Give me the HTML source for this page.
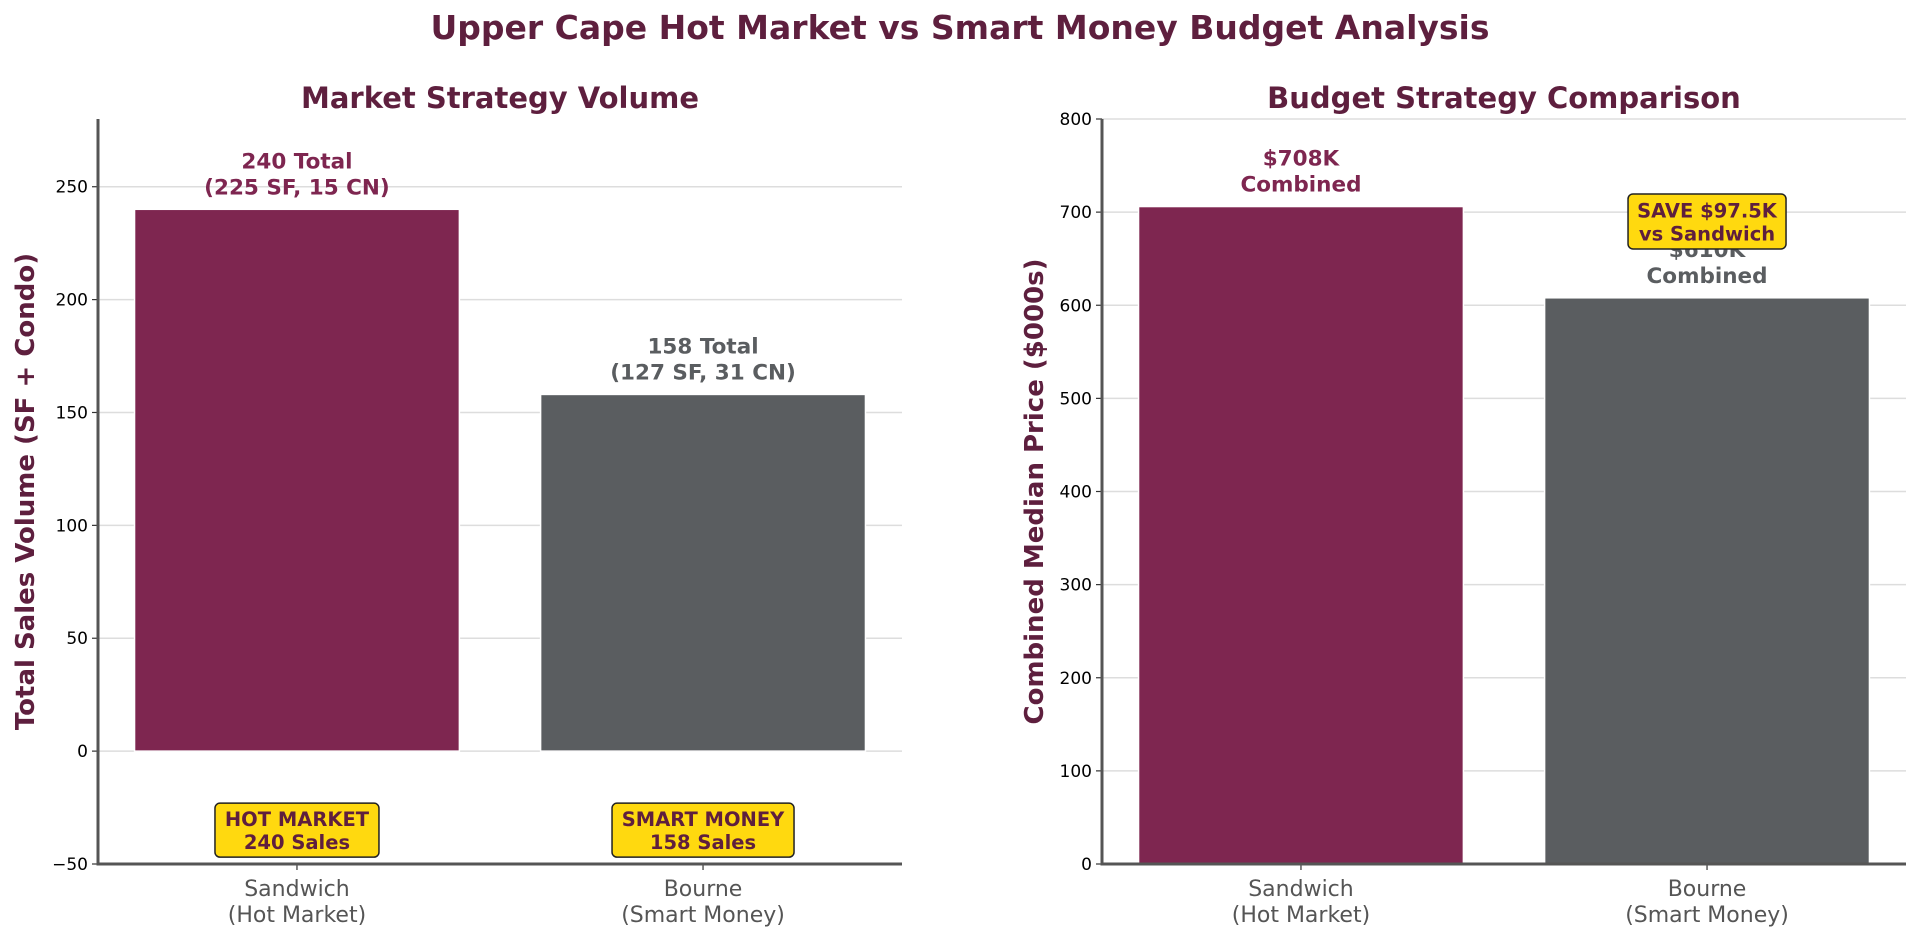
<!DOCTYPE html>
<html><head><meta charset="utf-8"><style>
html,body{margin:0;padding:0;background:#fff;}
svg{display:block;font-family:"DejaVu Sans","Liberation Sans",sans-serif;}
</style></head><body>
<svg id="c" width="1920" height="940" viewBox="0 0 1920 940">
<text x="960" y="39" text-anchor="middle" font-size="33" font-weight="bold" fill="#5E1F3E">Upper Cape Hot Market vs Smart Money Budget Analysis</text>
</svg>
<script>
const categories = ["Sandwich\n(Hot Market)", "Bourne\n(Smart Money)"];
const volumeValues = [240, 158];
const volumeLabels = ["240 Total\n(225 SF, 15 CN)", "158 Total\n(127 SF, 31 CN)"];
const volumeBadges = ["HOT MARKET\n240 Sales", "SMART MONEY\n158 Sales"];
const volumeTicks = [-50, 0, 50, 100, 150, 200, 250];
const priceValues = [706, 608];
const priceLabels = ["$708K\nCombined", "$610K\nCombined"];
const priceTicks = [0, 100, 200, 300, 400, 500, 600, 700, 800];
const saveText = "SAVE $97.5K\nvs Sandwich";
const saveValue = 690;
const badgeValue = -35;

const NS = "http://www.w3.org/2000/svg";
const svg = document.getElementById('c');
const colors = ["#7E2650", "#5A5D60"];
function el(tag, attrs, parent) {
  const e = document.createElementNS(NS, tag);
  for (const k in attrs) e.setAttribute(k, attrs[k]);
  (parent || svg).appendChild(e);
  return e;
}
function multiText(x, y, str, size, fill, weight, lh, name) {
  const t = el('text', {x: x, y: y, 'text-anchor': 'middle', 'font-size': size, fill: fill, 'font-weight': weight});
  
  
  str.split('\n').forEach((s, i) => {
    const ts = el('tspan', {x: x, dy: i === 0 ? 0 : lh}, t);
    ts.textContent = s;
  });
  return t;
}
function panel(cfg) {
  const L = cfg.left, R = L + 804, T = 119, B = 864;
  const y = v => B - (v - cfg.ymin) / (cfg.ymax - cfg.ymin) * (B - T);
  const x = i => L + (i + 0.49) / 1.98 * (R - L);
  const bw = 0.8 / 1.98 * (R - L);
  const g = el('g', {});
  
  
  const tt = el('text', {x: (L + R) / 2, y: 108, 'text-anchor': 'middle', 'font-size': 29, 'font-weight': 'bold', fill: '#5E1F3E'}, g);
  
  
  tt.textContent = cfg.title;
  cfg.ticks.forEach(v => {
    const gl = el('line', {x1: L, x2: R, y1: y(v), y2: y(v), stroke: '#dddddd', 'stroke-width': 1.5}, g);
    
    
    el('line', {x1: L - 6, x2: L, y1: y(v), y2: y(v), stroke: '#333', 'stroke-width': 1.2}, g);
    const tl = el('text', {x: L - 10, y: y(v) + 6, 'text-anchor': 'end', 'font-size': 17, fill: '#000'}, g);
    
    
    tl.textContent = String(v).replace('-', '\u2212');
  });
  cfg.values.forEach((v, i) => {
    const r = el('rect', {x: x(i) - bw / 2, y: y(Math.max(v, 0)), width: bw, height: Math.abs(y(0) - y(v)), fill: colors[i], stroke: '#fff', 'stroke-width': 1.5}, g);
    
    
    multiText(x(i), y(v) - 41, cfg.labels[i], 21.5, colors[i], 'bold', 26, 'bar-value-label');
    el('line', {x1: x(i), x2: x(i), y1: B, y2: B + 6, stroke: '#333', 'stroke-width': 1.2}, g);
    multiText(x(i), B + 32, categories[i], 22, '#555', 'normal', 26, 'x-tick-label');
  });
  const yl = el('text', {x: 0, y: 0, 'text-anchor': 'middle', 'font-size': 26, 'font-weight': 'bold', fill: '#5E1F3E', transform: `translate(${cfg.ylabX},${(T + B) / 2}) rotate(-90)`}, g);
  
  
  yl.textContent = cfg.ylabel;
  const sl = el('line', {x1: L, x2: L, y1: T, y2: B + 1.5, stroke: '#555', 'stroke-width': 3}, g);
  
  
  const sb = el('line', {x1: L, x2: R, y1: B, y2: B, stroke: '#555', 'stroke-width': 3}, g);
  
  
  return {x, y, g, bw};
}
function badge(cx, cy, w, h, str, name) {
  const r = el('rect', {x: cx - w / 2, y: cy - h / 2, width: w, height: h, rx: 5, fill: '#FFD90F', stroke: '#222', 'stroke-width': 1.5});
  
  
  multiText(cx, cy - 4, str, 19.5, '#5E1F3E', 'bold', 23, name + '-text');
}
const p1 = panel({left: 98, ymin: -50, ymax: 280, ticks: volumeTicks, values: volumeValues, labels: volumeLabels, title: 'Market Strategy Volume', ylabel: 'Total Sales Volume (SF + Condo)', ylabX: 34, name: 'volume-panel'});
volumeBadges.forEach((b, i) => badge(p1.x(i), p1.y(badgeValue), i === 0 ? 164 : 182, 54, b, 'volume-badge'));
const p2 = panel({left: 1102, ymin: 0, ymax: 800, ticks: priceTicks, values: priceValues, labels: priceLabels, title: 'Budget Strategy Comparison', ylabel: 'Combined Median Price ($000s)', ylabX: 1043, name: 'price-panel'});
badge(p2.x(1), p2.y(saveValue), 158, 55, saveText, 'savings-badge');
</script>
</body></html>
